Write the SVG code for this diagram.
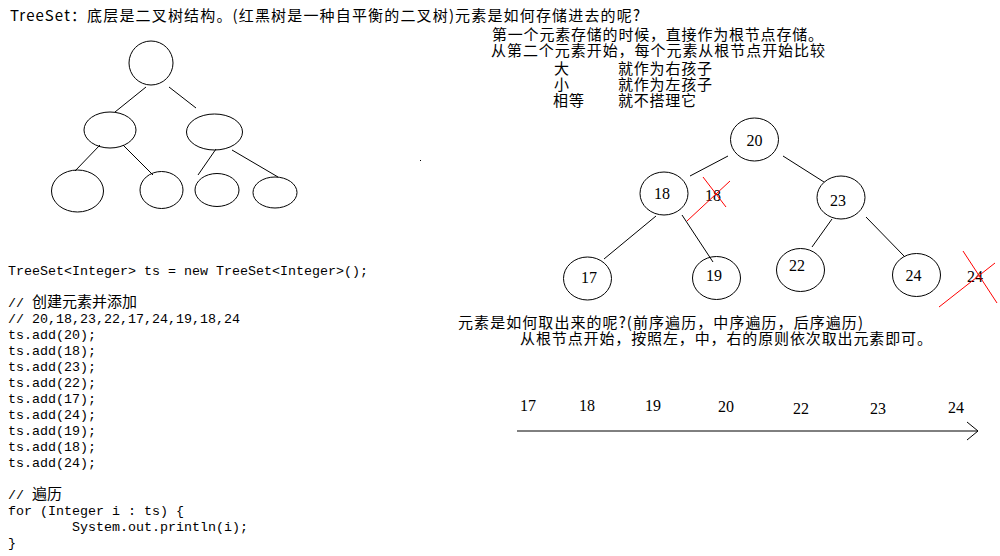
<svg xmlns="http://www.w3.org/2000/svg" width="1000" height="556" viewBox="0 0 1000 556">
<style>
.bg{fill:#fff}
.n{fill:none;stroke:#000;stroke-width:1}
.e{stroke:#000;stroke-width:1;fill:none}
.x{stroke:#f00;stroke-width:1;fill:none}
.cn{font-family:"Noto Sans CJK SC","Noto Sans",sans-serif;font-size:15px;fill:#000}
.num{font-family:"Liberation Serif",serif;font-size:16px;fill:#000}
.code{font-family:"Liberation Mono","Noto Sans CJK SC",monospace;font-size:13.33px;fill:#000}
.cc{font-family:"Noto Sans CJK SC",sans-serif;font-size:15px}
</style>
<rect class="bg" x="0" y="0" width="1000" height="556"/>

<text class="cn" x="10" y="21" textLength="630" lengthAdjust="spacing">TreeSet：底层是二叉树结构。(红黑树是一种自平衡的二叉树)元素是如何存储进去的呢?</text>

<g id="rules">
<text class="cn" x="492" y="40" textLength="331" lengthAdjust="spacing">第一个元素存储的时候，直接作为根节点存储。</text>
<text class="cn" x="491" y="56" textLength="334" lengthAdjust="spacing">从第二个元素开始，每个元素从根节点开始比较</text>
<text class="cn" x="554" y="74">大</text>
<text class="cn" x="618" y="74" textLength="94" lengthAdjust="spacing">就作为右孩子</text>
<text class="cn" x="554" y="90">小</text>
<text class="cn" x="618" y="90" textLength="94" lengthAdjust="spacing">就作为左孩子</text>
<text class="cn" x="553" y="106" textLength="31" lengthAdjust="spacing">相等</text>
<text class="cn" x="618" y="106" textLength="78" lengthAdjust="spacing">就不搭理它</text>
</g>

<!-- generic tree -->
<g id="generic-tree">
<g id="g-root"><ellipse class="n" cx="151" cy="63" rx="22" ry="22"/></g>
<g id="g-l"><ellipse class="n" cx="110" cy="130" rx="26" ry="18"/></g>
<g id="g-r"><ellipse class="n" cx="214.5" cy="132" rx="28" ry="18"/></g>
<g id="g-ll"><ellipse class="n" cx="77.5" cy="191" rx="26" ry="21"/></g>
<g id="g-lr"><ellipse class="n" cx="161.5" cy="190" rx="21.5" ry="18.5"/></g>
<g id="g-rl"><ellipse class="n" cx="217" cy="190" rx="22" ry="16.5"/></g>
<g id="g-rr"><ellipse class="n" cx="275" cy="192.5" rx="22" ry="15.5"/></g>
</g>
<g id="generic-connectors">
<line class="e" x1="146" y1="87" x2="115" y2="112"/>
<line class="e" x1="169" y1="87" x2="196" y2="108"/>
<line class="e" x1="100" y1="145" x2="75" y2="171"/>
<line class="e" x1="123" y1="145" x2="153" y2="175"/>
<line class="e" x1="216" y1="149" x2="198" y2="175"/>
<line class="e" x1="232" y1="150" x2="278" y2="177"/>
</g>
<rect x="420" y="160" width="1" height="1" fill="#000"/>

<!-- example tree -->
<g id="t-20"><ellipse class="n" cx="754.5" cy="139.5" rx="24" ry="21.5"/><text class="num" x="754.5" y="146" text-anchor="middle">20</text></g>
<g id="t-18"><ellipse class="n" cx="664" cy="193.5" rx="24" ry="21.5"/><text class="num" x="662" y="199" text-anchor="middle">18</text></g>
<g id="t-23"><ellipse class="n" cx="841" cy="197.5" rx="24" ry="21.5"/><text class="num" x="838" y="206" text-anchor="middle">23</text></g>
<g id="t-17"><ellipse class="n" cx="587.5" cy="278.5" rx="24" ry="21.5"/><text class="num" x="589" y="283" text-anchor="middle">17</text></g>
<g id="t-19"><ellipse class="n" cx="716.5" cy="278" rx="24" ry="21.5"/><text class="num" x="714" y="281" text-anchor="middle">19</text></g>
<g id="t-22"><ellipse class="n" cx="800.5" cy="270" rx="24" ry="21.5"/><text class="num" x="797" y="271" text-anchor="middle">22</text></g>
<g id="t-24"><ellipse class="n" cx="916.5" cy="275" rx="24" ry="21.5"/><text class="num" x="913.5" y="281" text-anchor="middle">24</text></g>
<g id="dup-18"><text class="num" x="713" y="201" text-anchor="middle">18</text>
<line class="x" x1="703" y1="177" x2="726" y2="207"/><line class="x" x1="730" y1="181" x2="687" y2="221"/></g>
<g id="dup-24"><text class="num" x="975" y="282" text-anchor="middle">24</text>
<line class="x" x1="963" y1="251" x2="997" y2="303"/><line class="x" x1="995" y1="263" x2="939" y2="307"/></g>

<g id="tree-connectors">
<line class="e" x1="728" y1="156" x2="690" y2="176"/>
<line class="e" x1="783" y1="156" x2="824" y2="182"/>
<line class="e" x1="656" y1="216" x2="604" y2="259"/>
<line class="e" x1="682" y1="215" x2="713" y2="262"/>
<line class="e" x1="832" y1="219" x2="812" y2="247"/>
<line class="e" x1="866" y1="217" x2="904" y2="256"/>
</g>

<g id="traversal">
<text class="cn" x="458" y="328" textLength="405" lengthAdjust="spacing">元素是如何取出来的呢?(前序遍历，中序遍历，后序遍历)</text>
<text class="cn" x="520" y="344" textLength="412" lengthAdjust="spacing">从根节点开始，按照左，中，右的原则依次取出元素即可。</text>
<text class="num" x="528" y="411" text-anchor="middle">17</text>
<text class="num" x="587" y="411" text-anchor="middle">18</text>
<text class="num" x="653" y="411" text-anchor="middle">19</text>
<text class="num" x="726" y="412" text-anchor="middle">20</text>
<text class="num" x="801" y="414" text-anchor="middle">22</text>
<text class="num" x="878" y="414" text-anchor="middle">23</text>
<text class="num" x="956" y="413" text-anchor="middle">24</text>
<line class="e" x1="517" y1="431" x2="978" y2="431"/>
<polyline class="e" points="967,422 978,431 967,440"/>
</g>

<g id="code">
<text class="code" x="8" y="275">TreeSet&lt;Integer&gt; ts = new TreeSet&lt;Integer&gt;();</text>
<text class="code" x="8" y="307">// <tspan class="cc">创建元素并添加</tspan></text>
<text class="code" x="8" y="323">// 20,18,23,22,17,24,19,18,24</text>
<text class="code" x="8" y="339">ts.add(20);</text>
<text class="code" x="8" y="355">ts.add(18);</text>
<text class="code" x="8" y="371">ts.add(23);</text>
<text class="code" x="8" y="387">ts.add(22);</text>
<text class="code" x="8" y="403">ts.add(17);</text>
<text class="code" x="8" y="419">ts.add(24);</text>
<text class="code" x="8" y="435">ts.add(19);</text>
<text class="code" x="8" y="451">ts.add(18);</text>
<text class="code" x="8" y="467">ts.add(24);</text>
<text class="code" x="8" y="499">// <tspan class="cc">遍历</tspan></text>
<text class="code" x="8" y="515">for (Integer i : ts) {</text>
<text class="code" x="72" y="531">System.out.println(i);</text>
<text class="code" x="8" y="547">}</text>
</g>
</svg>
